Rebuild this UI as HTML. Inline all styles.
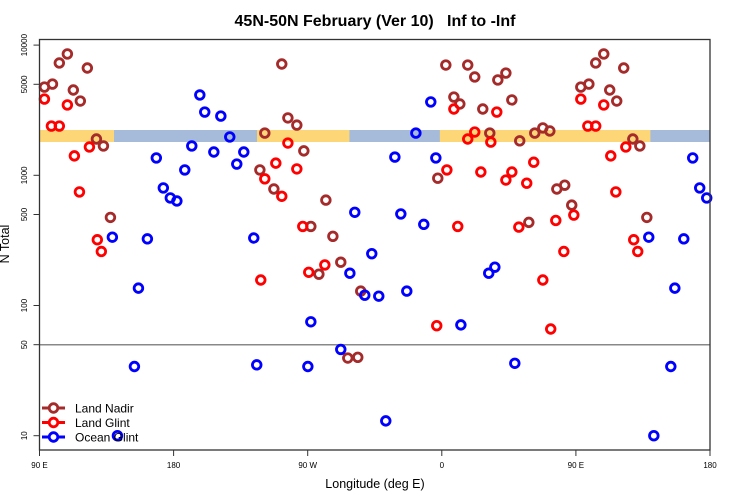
<!DOCTYPE html>
<html><head><meta charset="utf-8"><style>
body{margin:0;background:#fff}
svg{display:block;font-family:"Liberation Sans",sans-serif}
</style></head><body>
<svg id="chart" width="750" height="500" viewBox="0 0 750 500"></svg>
<script>
const nadirLon=[-122.1,-118.8,-112.7,-107.4,-103.3,-97.3,-92.6,-87.9,-82.5,-77.8,-73.1,-67.8,-63.1,-56.4,-54.4,-2.7,2.7,8.1,12.1,17.4,22.1,27.5,32.2,37.6,43,47,52.3,58.4,62.4,67.8,72.5,77.2,82.5,87.2,93.3,98.7,103.3,108.7,112.7,117.4,122.1,128.2,132.9,137.6];
const nadirVal=[1100,2110,785,7160,2760,2430,1540,405,174,645,340,215,39.5,40,129,950,7030,3990,3530,7030,5690,3230,2110,5400,6100,3790,1840,435,2110,2310,2190,785,840,590,4760,5020,7290,8550,4520,3720,6670,1900,1680,475];
const glintLon=[-121.5,-118.8,-111.4,-107.4,-103.3,-97.3,-93.3,-89.3,-78.5,-3.4,3.4,8.1,10.7,17.4,22.1,26.2,32.9,36.9,43,47,51.7,57,61.7,67.8,73.1,76.5,81.9,88.6,93.3,98,103.3,108.7,113.4,116.8,123.5,128.8,131.5];
const glintVal=[157,940,1240,690,1770,1120,405,180,205,70,1100,3230,405,1900,2150,1060,1800,3060,920,1060,400,870,1260,157,66,450,260,495,3850,2390,2390,3470,1410,745,1650,320,260];
const oceanLon=[-177.8,-172.5,-167.8,-162.4,-159.1,-153,-148.3,-142.3,-137.6,-132.9,-126.2,-124.2,-89.9,-87.9,-67.8,-61.7,-58.4,-51.7,-47,-42.3,-37.6,-31.5,-27.5,-23.5,-17.4,-12.1,-7.4,-4,12.8,31.5,35.6,49,138.9,142.3,153.7,156.4,162.4,168.4,173.1,177.8];
const oceanVal=[635,1100,1680,4140,3060,1510,2850,1970,1220,1510,330,35,34,75,46,177,520,120,250,118,13,1380,505,129,2110,420,3660,1360,71,177,197,36,335,10,34,136,325,1360,800,670];
const landRanges=[[-124,-62],[-1.3,140]];
const yTicks=[10,50,100,500,1000,5000,10000];
const xTickPos=[90,180,270,360,450,540];
const xTickLabels=["90 E","180","90 W","0","90 E","180"];

const L=39.5,R=710,T=39.5,B=450;
const X=c=>L+(c-90)*(R-L)/450;
const Y=v=>435.7-(Math.log10(v)-1)*130.2;
const NS="http://www.w3.org/2000/svg";
const svg=document.getElementById('chart');
function mk(t,a,p){const e=document.createElementNS(NS,t);for(const k in a)e.setAttribute(k,a[k]);(p||svg).appendChild(e);return e;}
function copies(lon){const r=[lon+360];if(lon>=90)r.push(lon);return r;}

const band=mk('g',{});


mk('rect',{x:L,y:130,width:R-L,height:12,fill:'#a5bbd9'},band);
landRanges.forEach(([a,b])=>{
  [[a+360,b+360],[a,b],[a+720,b+720]].forEach(([c0,c1])=>{
    const s=Math.max(c0,90),e=Math.min(c1,540);
    if(e>s){const r=mk('rect',{x:X(s),y:130,width:X(e)-X(s),height:12,fill:'#fdd677'},band);
      
      }
  });
});
const rl=mk('line',{x1:L,x2:R,y1:Y(50),y2:Y(50),stroke:'#888',"stroke-width":1.5});



function series(lons,vals,color,name){
  const g=mk('g',{});
  
  
  lons.forEach((lon,i)=>{copies(lon).forEach(c=>{
    if(c<88||c>542)return;
    const p=mk('circle',{cx:X(c),cy:Y(vals[i]),r:4.3,fill:'none',stroke:color,"stroke-width":2.8},g);
    
    
  });});
}
series(nadirLon,nadirVal,'#a52a2a','land-nadir');
series(glintLon,glintVal,'#ff0000','land-glint');
series(oceanLon,oceanVal,'#0000ff','ocean-glint');

const fr=mk('rect',{x:L,y:T,width:R-L,height:B-T,fill:'none',stroke:'#333',"stroke-width":1.3});


yTicks.forEach(v=>{
  const y=Y(v);
  const t=mk('line',{x1:L-6,x2:L,y1:y,y2:y,stroke:'#333'});
  
  
  const tx=mk('text',{x:27,y:y,"font-size":8,"text-anchor":"middle",transform:`rotate(-90 27 ${y})`});
  tx.textContent=String(v);
  
  
});
xTickPos.forEach((c,i)=>{
  const x=X(c);
  const t=mk('line',{x1:x,x2:x,y1:B,y2:B+6,stroke:'#333'});
  
  
  const tx=mk('text',{x:x,y:468,"font-size":8,"text-anchor":"middle"});
  tx.textContent=xTickLabels[i];
  
  
});
</script>
<script>
(function(){
const svg=document.getElementById('chart');const NS="http://www.w3.org/2000/svg";
function t(txt,a,name){const e=document.createElementNS(NS,'text');for(const k in a)e.setAttribute(k,a[k]);e.textContent=txt;


svg.appendChild(e);return e;}
t("45N-50N February (Ver 10)   Inf to -Inf",{x:375,y:26,"font-size":16,"font-weight":"bold","text-anchor":"middle",style:"white-space:pre"},'chart-title');
t("Longitude (deg E)",{x:375,y:488,"font-size":12.5,"text-anchor":"middle"},'x-axis-title');
t("N Total",{x:9,y:244,"font-size":12.5,"text-anchor":"middle",transform:"rotate(-90 9 244)"},'y-axis-title');
const leg=[["Land Nadir","#a52a2a",408],["Land Glint","#ff0000",422.5],["Ocean Glint","#0000ff",437]];
leg.forEach(([n,c,y])=>{
  const g=document.createElementNS(NS,'g');
  
  
  g.innerHTML=`<line x1="42" x2="65" y1="${y}" y2="${y}" stroke="${c}" stroke-width="3"/><circle cx="53.5" cy="${y}" r="4.3" fill="#fff" stroke="${c}" stroke-width="2.8"/><text x="75" y="${y+4.5}" font-size="12">${n}</text>`;
  svg.appendChild(g);
});
})();
</script>
</body></html>
